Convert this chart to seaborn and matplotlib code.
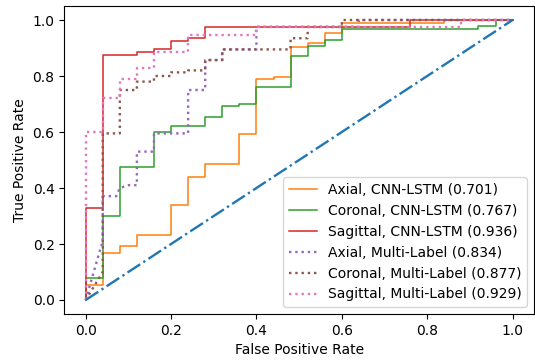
import matplotlib
matplotlib.use("Agg")
import matplotlib.pyplot as plt
import seaborn as sns

# Curvas ROC (fpr, tpr)
axial_lstm_fpr = [0, 0, 0.04, 0.04, 0.08, 0.08, 0.12, 0.12, 0.20, 0.20, 0.24, 0.24, 0.28, 0.28, 0.36, 0.36,
                  0.40, 0.40, 0.44, 0.44, 0.48, 0.48, 0.52, 0.52, 0.56, 0.56, 0.60, 0.60, 0.84, 0.84, 1.0]
axial_lstm_tpr = [0, 0.054, 0.054, 0.167, 0.167, 0.193, 0.193, 0.232, 0.232, 0.34, 0.34, 0.44, 0.44, 0.486,
                  0.486, 0.593, 0.593, 0.788, 0.788, 0.798, 0.798, 0.905, 0.905, 0.917, 0.917, 0.955, 0.955,
                  0.988, 0.988, 1.0, 1.0]

coronal_lstm_fpr = [0, 0, 0.04, 0.04, 0.08, 0.08, 0.16, 0.16, 0.20, 0.20, 0.28, 0.28, 0.32, 0.32, 0.36, 0.36,
                    0.40, 0.40, 0.48, 0.48, 0.52, 0.52, 0.56, 0.56, 0.60, 0.60, 0.92, 0.92, 0.96, 0.96, 1.0]
coronal_lstm_tpr = [0, 0.077, 0.077, 0.30, 0.30, 0.476, 0.476, 0.60, 0.60, 0.62, 0.62, 0.655, 0.655, 0.693,
                    0.693, 0.70, 0.70, 0.76, 0.76, 0.873, 0.873, 0.907, 0.907, 0.93, 0.93, 0.967, 0.967,
                    0.98, 0.98, 1.0, 1.0]

sagittal_lstm_fpr = [0, 0, 0.04, 0.04, 0.12, 0.12, 0.16, 0.16, 0.20, 0.20, 0.24, 0.24, 0.28, 0.28, 0.76, 0.76, 1.0]
sagittal_lstm_tpr = [0, 0.33, 0.33, 0.875, 0.875, 0.885, 0.885, 0.895, 0.895, 0.925, 0.925, 0.935, 0.935,
                     0.975, 0.975, 1.0, 1.0]

axial_ml_fpr = [0, 0.037, 0.04, 0.04, 0.072, 0.08, 0.10, 0.12, 0.12, 0.16, 0.16, 0.24, 0.24, 0.28, 0.28,
                0.32, 0.32, 0.40, 0.40, 0.64, 0.64, 1.0]
axial_ml_tpr = [0, 0.196, 0.20, 0.371, 0.371, 0.40, 0.41, 0.41, 0.53, 0.53, 0.595, 0.595, 0.75, 0.75, 0.857,
                0.857, 0.895, 0.895, 0.976, 0.976, 1.0, 1.0]

coronal_ml_fpr = [0, 0.04, 0.04, 0.08, 0.08, 0.12, 0.12, 0.16, 0.16, 0.20, 0.20, 0.24, 0.24, 0.28, 0.28,
                  0.32, 0.32, 0.48, 0.48, 0.52, 0.52, 0.60, 0.60, 1.0]
coronal_ml_tpr = [0, 0.10, 0.595, 0.595, 0.75, 0.75, 0.78, 0.78, 0.80, 0.80, 0.813, 0.813, 0.82, 0.82, 0.857,
                  0.857, 0.895, 0.895, 0.935, 0.935, 0.975, 0.975, 1.0, 1.0]

sagittal_ml_fpr = [0, 0, 0.04, 0.04, 0.08, 0.08, 0.12, 0.12, 0.16, 0.16, 0.24, 0.24, 0.40, 0.40, 0.88, 0.88, 1.0]
sagittal_ml_tpr = [0, 0.60, 0.60, 0.72, 0.72, 0.79, 0.79, 0.83, 0.83, 0.887, 0.887, 0.946, 0.946, 0.976,
                   0.976, 1.0, 1.0]

rotulos = ["Axial, CNN-LSTM (0.701)", "Coronal, CNN-LSTM (0.767)", "Sagittal, CNN-LSTM (0.936)",
           "Axial, Multi-Label (0.834)", "Coronal, Multi-Label (0.877)", "Sagittal, Multi-Label (0.929)"]
cores = ["C1", "C2", "C3", "C4", "C5", "C6"]
chance = [0, 1]

curvas = [(axial_lstm_fpr, axial_lstm_tpr), (coronal_lstm_fpr, coronal_lstm_tpr),
          (sagittal_lstm_fpr, sagittal_lstm_tpr), (axial_ml_fpr, axial_ml_tpr),
          (coronal_ml_fpr, coronal_ml_tpr), (sagittal_ml_fpr, sagittal_ml_tpr)]

fig = plt.figure(figsize=(5.35, 3.62), dpi=100)
ax = fig.add_subplot(111)
fig.subplots_adjust(left=0.1202, right=0.998, bottom=0.1326, top=0.9834)

for i, (fpr, tpr) in enumerate(curvas):
    estilo = "-" if i < 3 else ":"
    largura = 1.1 if i < 3 else 1.7
    sns.lineplot(x=fpr, y=tpr, sort=False, estimator=None, color=cores[i],
                 linestyle=estilo, linewidth=largura, label=rotulos[i], ax=ax)

# Linha de referencia (classificador aleatorio)
sns.lineplot(x=chance, y=chance, sort=False, estimator=None, color="C0",
             linestyle="-.", linewidth=1.7, ax=ax)

ax.set_xlabel("False Positive Rate")
ax.set_ylabel("True Positive Rate")
ax.legend(loc="lower right")

plt.savefig("out.png", dpi=100)
plt.close()
